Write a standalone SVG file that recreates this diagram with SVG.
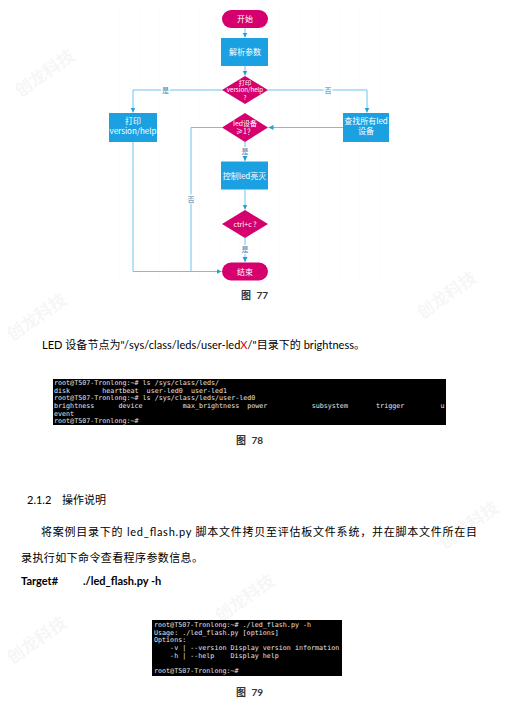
<svg xmlns="http://www.w3.org/2000/svg" width="506" height="704" viewBox="0 0 506 704">
<style>
.term{fill:#000}
.tt{font-family:"DejaVu Sans Mono","Liberation Mono",monospace;font-size:6.7px;fill:#e6e6e6;white-space:pre}
.ft{font-family:"Noto Sans CJK SC",sans-serif;fill:#fff;text-anchor:middle}
.lbl{font-family:"Noto Sans CJK SC",sans-serif;font-size:7px;fill:#3f7fb0;text-anchor:middle}
.body{font-family:"Lato","Noto Sans CJK SC",sans-serif;font-size:11px;fill:#000}
.cap{font-family:"Lato","Noto Sans CJK SC",sans-serif;font-size:10px;font-weight:bold;fill:#333}
.wm{font-family:"Noto Sans CJK SC",sans-serif;font-size:17px;font-weight:bold;fill:#000;opacity:0.03}
.ln{fill:none;stroke:#6cc4ee;stroke-width:1}
.pink{fill:#d5006d}
.blue{fill:#1ba1e2}
</style>
<defs>
<marker id="arr" markerUnits="userSpaceOnUse" markerWidth="6" markerHeight="6" refX="5" refY="3" orient="auto">
<path d="M0,0.5 L5,3 L0,5.5 z" fill="#1ba1e2"/>
</marker>
<pattern id="grid" width="10" height="10" patternUnits="userSpaceOnUse">
<path d="M10,0 V10 M0,10 H10" fill="none" stroke="#f7f7f7" stroke-width="0.5"/>
</pattern>
</defs>
<rect width="506" height="704" fill="#fff"/>

<!-- watermarks -->
<g id="watermarks">
<text class="wm" transform="translate(48,78) rotate(-35)" text-anchor="middle">创龙科技</text>
<text class="wm" transform="translate(450,300) rotate(-35)" text-anchor="middle">创龙科技</text>
<text class="wm" transform="translate(40,322) rotate(-35)" text-anchor="middle">创龙科技</text>
<text class="wm" transform="translate(472,530) rotate(-35)" text-anchor="middle">创龙科技</text>
<text class="wm" transform="translate(248,603) rotate(-35)" text-anchor="middle">创龙科技</text>
<text class="wm" transform="translate(40,645) rotate(-35)" text-anchor="middle">创龙科技</text>
</g>

<rect x="107" y="3" width="286" height="282" fill="url(#grid)"/>

<!-- connectors -->
<g id="connectors">
<path class="ln" d="M245,28 V37.5" marker-end="url(#arr)"/>
<path class="ln" d="M245,66 V75.5" marker-end="url(#arr)"/>
<path class="ln" d="M222,90 H133 V112.5" marker-end="url(#arr)"/>
<path class="ln" d="M268,90 H367 V112.5" marker-end="url(#arr)"/>
<path class="ln" d="M343,127.5 H268.5" marker-end="url(#arr)"/>
<path class="ln" d="M222,127.5 H191 V271.5"/>
<path class="ln" d="M245,142 V161" marker-end="url(#arr)"/>
<path class="ln" d="M245,189.5 V209.5" marker-end="url(#arr)"/>
<path class="ln" d="M245,238 V262" marker-end="url(#arr)"/>
<path class="ln" d="M133,142 V271.5 H221.5" marker-end="url(#arr)"/>
<rect x="161" y="85.5" width="9" height="9" fill="#fff"/>
<text class="lbl" x="165.5" y="92.5">是</text>
<rect x="323.5" y="85.5" width="9" height="9" fill="#fff"/>
<text class="lbl" x="328" y="92.5">否</text>
<rect x="186.5" y="194.5" width="9" height="9" fill="#fff"/>
<text class="lbl" x="191" y="201.5">否</text>
<rect x="240.5" y="147" width="9" height="9" fill="#fff"/>
<text class="lbl" x="245" y="154">是</text>
<rect x="240.5" y="245" width="9" height="9" fill="#fff"/>
<text class="lbl" x="245" y="252">是</text>
</g>

<!-- nodes -->
<g id="start">
<rect class="pink" x="222" y="10" width="46" height="18" rx="9"/>
<text class="ft" x="245" y="22" font-size="8">开始</text>
</g>
<g id="parse">
<rect class="blue" x="221" y="38" width="47" height="28"/>
<text class="ft" x="245" y="55" font-size="8">解析参数</text>
</g>
<g id="dec-print">
<polygon class="pink" points="245,76 268,90 245,104 222,90"/>
<text class="ft" font-size="6.2"><tspan x="245" y="84.5">打印</tspan><tspan x="245" y="92">version/help</tspan><tspan x="245" y="99.5">?</tspan></text>
</g>
<g id="print-box">
<rect class="blue" x="109" y="113" width="48" height="29"/>
<text class="ft" font-size="8"><tspan x="133" y="124">打印</tspan><tspan x="133" y="134">version/help</tspan></text>
</g>
<g id="find-box">
<rect class="blue" x="343" y="113" width="46" height="29"/>
<text class="ft" font-size="8"><tspan x="366" y="124">查找所有led</tspan><tspan x="366" y="134">设备</tspan></text>
</g>
<g id="dec-led">
<polygon class="pink" points="245,113 268,127.5 245,142 222,127.5"/>
<text class="ft" font-size="7"><tspan x="245" y="125.5">led设备</tspan><tspan x="245" y="134">≥1？</tspan></text>
</g>
<g id="ctrl-box">
<rect class="blue" x="221" y="161.5" width="47" height="28"/>
<text class="ft" x="244.5" y="178.5" font-size="8">控制led亮灭</text>
</g>
<g id="dec-ctrl">
<polygon class="pink" points="245,210 268,224 245,238 222,224"/>
<text class="ft" x="245" y="226.5" font-size="7">ctrl+c ?</text>
</g>
<g id="end">
<rect class="pink" x="222" y="262.5" width="46" height="18" rx="9"/>
<text class="ft" x="245" y="274.5" font-size="8">结束</text>
</g>

<text class="cap" x="241" y="299" text-anchor="start">图 <tspan dx="3">77</tspan></text>

<text class="body" x="42" y="349" textLength="323" lengthAdjust="spacing">LED 设备节点为"/sys/class/leds/user-led<tspan fill="#e00000">X</tspan>/"目录下的 brightness。</text>

<g id="term78">
<rect class="term" x="53" y="379" width="393" height="46"/>
<text class="tt" xml:space="preserve" x="54" y="385">root@T507-Tronlong:~# ls /sys/class/leds/</text>
<text class="tt" xml:space="preserve" x="54" y="392.7">disk        heartbeat  user-led0  user-led1</text>
<text class="tt" xml:space="preserve" x="54" y="400.4">root@T507-Tronlong:~# ls /sys/class/leds/user-led0</text>
<text class="tt" xml:space="preserve" x="54" y="408.1">brightness      device          max_brightness  power           subsystem       trigger         u</text>
<text class="tt" xml:space="preserve" x="54" y="415.8">event</text>
<text class="tt" xml:space="preserve" x="54" y="423.3">root@T507-Tronlong:~#</text>
</g>
<text class="cap" x="236" y="444">图 <tspan dx="3">78</tspan></text>

<text class="body" x="27" y="504">2.1.2<tspan x="62">操作说明</tspan></text>
<text class="body" x="41" y="535.5" textLength="436" lengthAdjust="spacing">将案例目录下的 led_flash.py 脚本文件拷贝至评估板文件系统，并在脚本文件所在目</text>
<text class="body" x="21" y="562" textLength="182" lengthAdjust="spacing">录执行如下命令查看程序参数信息。</text>
<text class="body" x="21" y="584.5" font-weight="bold">Target#<tspan x="83">./led_flash.py -h</tspan></text>

<g id="term79">
<rect class="term" x="152" y="620" width="190" height="56"/>
<text class="tt" xml:space="preserve" x="154" y="627">root@T507-Tronlong:~# ./led_flash.py -h</text>
<text class="tt" xml:space="preserve" x="154" y="634.7">Usage: ./led_flash.py [options]</text>
<text class="tt" xml:space="preserve" x="154" y="642.4">Options:</text>
<text class="tt" xml:space="preserve" x="154" y="650.1">    -v | --version Display version information</text>
<text class="tt" xml:space="preserve" x="154" y="657.8">    -h | --help    Display help</text>
<text class="tt" xml:space="preserve" x="154" y="673.2">root@T507-Tronlong:~#</text>
</g>
<text class="cap" x="236" y="696">图 <tspan dx="3">79</tspan></text>
</svg>
